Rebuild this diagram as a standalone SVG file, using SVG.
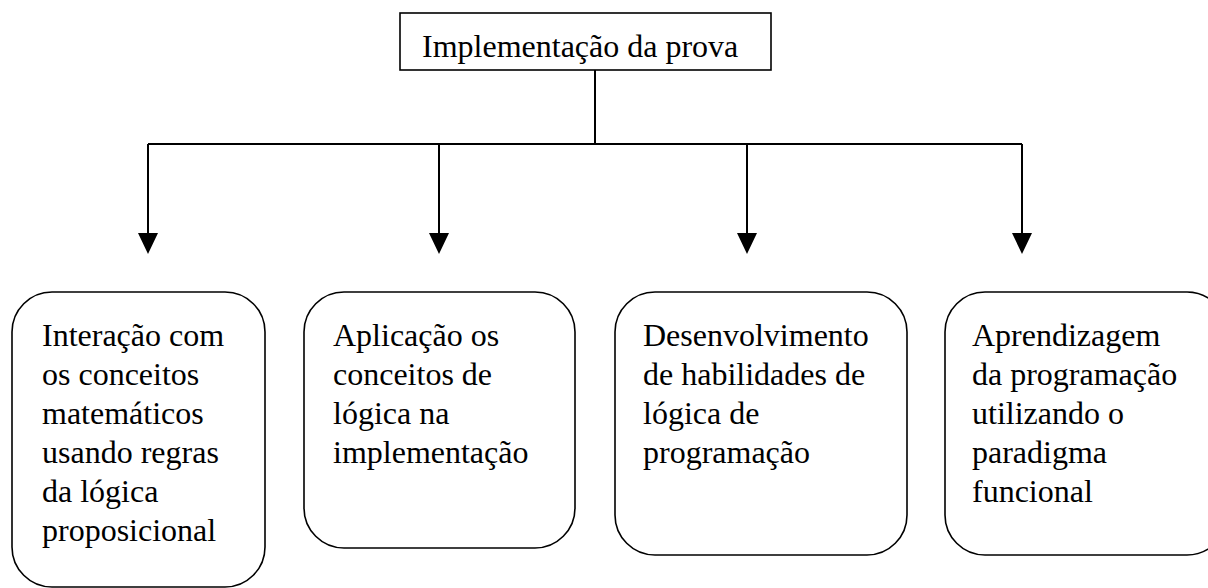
<svg xmlns="http://www.w3.org/2000/svg" width="1208" height="588" viewBox="0 0 1208 588">
<style>
.t{font-family:"Liberation Serif","Times New Roman",serif;font-size:32px;fill:#000}
.b{fill:#fff;stroke:#000;stroke-width:1.6}
.c{fill:none;stroke:#000;stroke-width:2}
.h{fill:#000}
</style>
<rect width="1208" height="588" fill="#fff"/>
<g id="connectors">
<path class="c" d="M595,70 V144 M148,144 H1022"/>
<line class="c" x1="148" y1="144" x2="148" y2="234"/>
<line class="c" x1="439" y1="144" x2="439" y2="234"/>
<line class="c" x1="747" y1="144" x2="747" y2="234"/>
<line class="c" x1="1022" y1="144" x2="1022" y2="234"/>
<path class="h" d="M138,233 H158 L148,254 Z M429,233 H449 L439,254 Z M737,233 H757 L747,254 Z M1012,233 H1032 L1022,254 Z"/>
</g>
<g id="root">
<rect class="b" x="400" y="13" width="371" height="57"/>
<text class="t" x="422" y="57">Implementação da prova</text>
</g>
<g id="n1">
<rect class="b" x="12" y="292" width="253" height="295" rx="40" ry="40"/>
<text class="t"><tspan x="42" y="346">Interação com</tspan><tspan x="42" y="385">os conceitos</tspan><tspan x="42" y="424">matemáticos</tspan><tspan x="42" y="463">usando regras</tspan><tspan x="42" y="502">da lógica</tspan><tspan x="42" y="541">proposicional</tspan></text>
</g>
<g id="n2">
<rect class="b" x="304" y="292" width="271" height="256" rx="40" ry="40"/>
<text class="t"><tspan x="333" y="346">Aplicação os</tspan><tspan x="333" y="385">conceitos de</tspan><tspan x="333" y="424">lógica na</tspan><tspan x="333" y="463">implementação</tspan></text>
</g>
<g id="n3">
<rect class="b" x="615" y="292" width="292" height="263" rx="40" ry="40"/>
<text class="t"><tspan x="643" y="346">Desenvolvimento</tspan><tspan x="643" y="385">de habilidades de</tspan><tspan x="643" y="424">lógica de</tspan><tspan x="643" y="463">programação</tspan></text>
</g>
<g id="n4">
<rect class="b" x="945" y="292" width="282" height="263" rx="40" ry="40"/>
<text class="t"><tspan x="972" y="346">Aprendizagem</tspan><tspan x="972" y="385">da programação</tspan><tspan x="972" y="424">utilizando o</tspan><tspan x="972" y="463">paradigma</tspan><tspan x="972" y="502">funcional</tspan></text>
</g>
</svg>
